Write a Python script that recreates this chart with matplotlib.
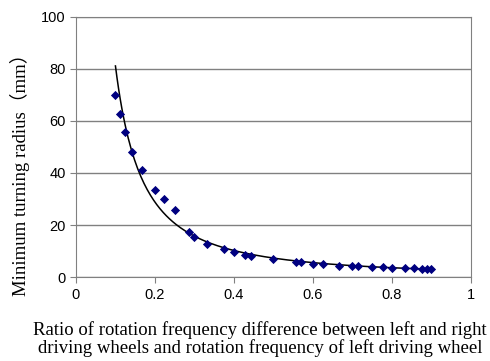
import numpy as np
import matplotlib
matplotlib.use("Agg")
import matplotlib.pyplot as plt

# measured points
ratio = [0.100, 0.111, 0.125, 0.143, 0.167, 0.200, 0.222, 0.250, 0.286, 0.300,
         0.333, 0.375, 0.400, 0.429, 0.444, 0.500, 0.556, 0.571, 0.600, 0.625,
         0.667, 0.700, 0.714, 0.750, 0.778, 0.800, 0.833, 0.857, 0.875, 0.889, 0.900]
radius = [70.1, 62.8, 55.6, 48.2, 41.0, 33.6, 30.1, 25.8, 17.5, 15.5,
          12.8, 10.7, 9.8, 8.7, 8.3, 7.0, 5.9, 5.8, 5.2, 5.1,
          4.5, 4.3, 4.3, 4.1, 3.8, 3.7, 3.6, 3.5, 3.3, 3.2, 3.2]

# power trendline through the points (log-log least squares)
b, log_a = np.polyfit(np.log(ratio), np.log(radius), 1)
xs = np.linspace(min(ratio), max(ratio), 200)
ys = np.exp(log_a) * xs ** b

W, H = 490, 361
fig = plt.figure(figsize=(4.9, 3.61), dpi=100)
ax = fig.add_axes([0.155, 0.232, 0.806, 0.722])

ax.plot(xs, ys, color="black", linewidth=1.1, zorder=3)
ax.scatter(ratio, radius, marker="D", s=22, color="#000080", zorder=4, linewidths=0)

ax.set_xlim(0, 1)
ax.set_ylim(0, 100)
ax.set_xticks([0, 0.2, 0.4, 0.6, 0.8, 1])
ax.set_xticklabels(["0", "0.2", "0.4", "0.6", "0.8", "1"])
ax.set_yticks([0, 20, 40, 60, 80, 100])
ax.yaxis.grid(True, color="#808080", linewidth=1.0)
ax.set_axisbelow(True)
for sp in ax.spines.values():
    sp.set_color("#808080")
ax.tick_params(axis="both", colors="#808080", labelcolor="black", length=4,
               labelsize=10.5)
for lab in ax.get_xticklabels() + ax.get_yticklabels():
    lab.set_family("Liberation Sans")

fig.text(20 / W, 1 - 170 / H, "Minimum turning radius（mm）",
         family=["Liberation Serif", "Noto Sans CJK JP"], fontsize=13.5,
         rotation=90, ha="center", va="center")
fig.text(260 / W, 1 - 330 / H,
         "Ratio of rotation frequency difference between left and right",
         family="Liberation Serif", fontsize=13.5, ha="center", va="center")
fig.text(260 / W, 1 - 348 / H,
         "driving wheels and rotation frequency of left driving wheel",
         family="Liberation Serif", fontsize=13.5, ha="center", va="center")

fig.savefig("out.png", dpi=100)
